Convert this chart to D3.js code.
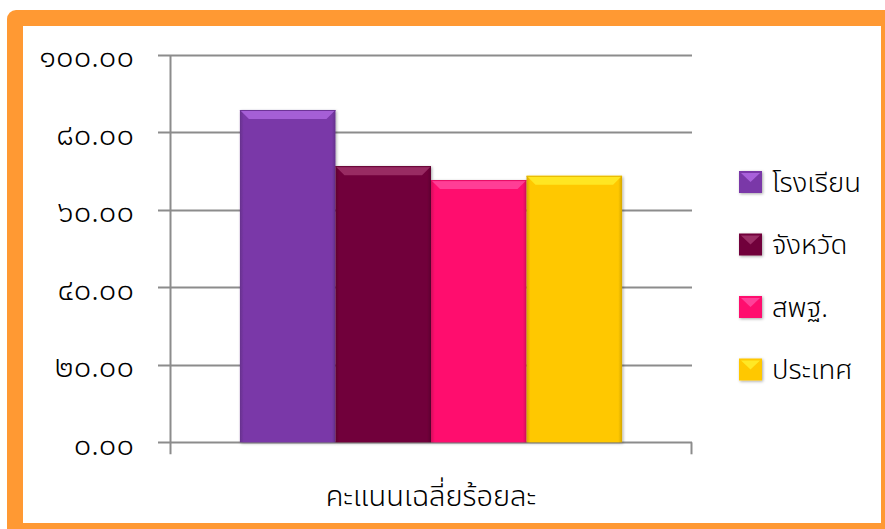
<!DOCTYPE html>
<html>
<head>
<meta charset="utf-8">
<script src="https://cdn.jsdelivr.net/npm/d3@7"></script>
<style>
html,body{margin:0;padding:0;background:#fff;}
svg{display:block;}
text{font-family:"Noto Sans Thai","Leelawadee UI",Tahoma,"Noto Sans",sans-serif;font-weight:300;}
</style>
</head>
<body>
<svg id="chart" width="885" height="529"></svg>
<script>
const categories = ["คะแนนเฉลี่ยร้อยละ"];
const seriesNames = ["โรงเรียน", "จังหวัด", "สพฐ.", "ประเทศ"];
const seriesValues = [85.8, 71.3, 67.7, 68.8];
const tickValues = [0, 20, 40, 60, 80, 100];
const tickLabels = ["๐.๐๐", "๒๐.๐๐", "๔๐.๐๐", "๖๐.๐๐", "๘๐.๐๐", "๑๐๐.๐๐"];
const seriesColors = ["#7a39a8", "#71053a", "#ff0a6e", "#ffc800"];
const bevelColors = ["#b46ce6", "#a53a70", "#ff4fa4", "#fff02e"];

const svg = d3.select("#chart");
const defs = svg.append("defs");

// frame
svg.append("rect").attr("x", 7).attr("y", 10).attr("width", 900).attr("height", 530)
  .attr("rx", 9).attr("fill", "#ff9933");
svg.append("rect").attr("x", 23).attr("y", 26).attr("width", 858).attr("height", 497)
  .attr("fill", "#ffffff");

const plot = {left: 170, right: 692, top: 55, bottom: 442.3};

const y = d3.scaleLinear().domain([0, 100]).range([plot.bottom, plot.top]);
const x0 = d3.scaleBand().domain(categories).range([plot.left, plot.right]).paddingInner(0).paddingOuter(0.183);
const x1 = d3.scaleBand().domain(seriesNames).range([0, x0.bandwidth()]).padding(0);

// grid lines
const grid = svg.append("g");
grid.selectAll("line").data(tickValues).join("line")
  .attr("x1", plot.left - 12).attr("x2", plot.right)
  .attr("y1", d => Math.round(y(d)) + 0.5).attr("y2", d => Math.round(y(d)) + 0.5)
  .attr("stroke", "#8c8c8c").attr("stroke-width", 2);

// y axis
const yAxis = d3.axisLeft(y).tickValues(tickValues).tickFormat((d, i) => tickLabels[i]).tickSize(0).tickPadding(36);
const yg = svg.append("g").attr("transform", `translate(${plot.left},0)`).call(yAxis);
yg.select(".domain").remove();
yg.selectAll("text").attr("font-size", 31).attr("fill", "#000")
  .attr("font-family", "'Noto Sans Thai',Tahoma,sans-serif").attr("font-weight", 300).attr("dy", "0.38em");

svg.append("line").attr("x1", plot.left + 0.5).attr("x2", plot.left + 0.5)
  .attr("y1", plot.top).attr("y2", plot.bottom + 12)
  .attr("stroke", "#8c8c8c").attr("stroke-width", 2);
svg.append("line").attr("x1", plot.right - 0.5).attr("x2", plot.right - 0.5)
  .attr("y1", plot.bottom).attr("y2", plot.bottom + 12)
  .attr("stroke", "#8c8c8c").attr("stroke-width", 2);

// shadow filter
const f = defs.append("filter").attr("id", "shadow").attr("x", "-10%").attr("y", "-10%").attr("width", "130%").attr("height", "130%");
f.append("feDropShadow").attr("dx", 1).attr("dy", 1).attr("stdDeviation", 1.5).attr("flood-color", "#000").attr("flood-opacity", 0.35);

// side gradients
seriesColors.forEach((c, i) => {
  const g = defs.append("linearGradient").attr("id", "side" + i).attr("x1", 0).attr("x2", 1).attr("y1", 0).attr("y2", 0);
  const dark = d3.color(c).darker(0.5);
  g.append("stop").attr("offset", "0%").attr("stop-color", dark);
  g.append("stop").attr("offset", "4%").attr("stop-color", c);
  g.append("stop").attr("offset", "96%").attr("stop-color", c);
  g.append("stop").attr("offset", "100%").attr("stop-color", dark);
});

const bars = svg.append("g").selectAll("g").data(seriesNames.map((s, i) => ({s, v: seriesValues[i], i})))
  .join("g").attr("transform", `translate(${x0(categories[0])},0)`);

bars.append("rect")
  .attr("x", d => x1(d.s)).attr("width", x1.bandwidth())
  .attr("y", d => y(d.v)).attr("height", d => y(0) - y(d.v))
  .attr("fill", d => `url(#side${d.i})`).attr("filter", "url(#shadow)");

const bev = 9;
bars.append("path")
  .attr("d", d => {
    const xa = x1(d.s), xb = xa + x1.bandwidth(), yt = y(d.v);
    return `M${xa},${yt}L${xb},${yt}L${xb - bev},${yt + bev}L${xa + bev},${yt + bev}Z`;
  })
  .attr("fill", d => bevelColors[d.i]).attr("opacity", 0.75);
bars.append("line")
  .attr("x1", d => x1(d.s)).attr("x2", d => x1(d.s) + x1.bandwidth())
  .attr("y1", d => y(d.v) + 0.5).attr("y2", d => y(d.v) + 0.5)
  .attr("stroke", d => d3.color(seriesColors[d.i]).darker(0.3)).attr("stroke-width", 1);

// x-axis category label
svg.append("text").attr("x", x0(categories[0]) + x0.bandwidth() / 2).attr("y", 506)
  .attr("text-anchor", "middle").attr("font-size", 29).attr("fill", "#000").text(categories[0]);

// legend
const legend = svg.append("g").selectAll("g").data(seriesNames).join("g")
  .attr("transform", (d, i) => `translate(739,${171 + i * 62.5})`);
legend.append("rect").attr("width", 23).attr("height", 22)
  .attr("fill", (d, i) => seriesColors[i]).attr("filter", "url(#shadow)");
legend.append("path").attr("d", "M2,2L21,2L11.5,11Z")
  .attr("fill", (d, i) => bevelColors[i]).attr("opacity", 0.8);
legend.append("text").attr("x", 33).attr("y", 11).attr("dy", "0.35em")
  .attr("font-size", 27.5).attr("fill", "#000").text(d => d);
</script>
</body>
</html>
